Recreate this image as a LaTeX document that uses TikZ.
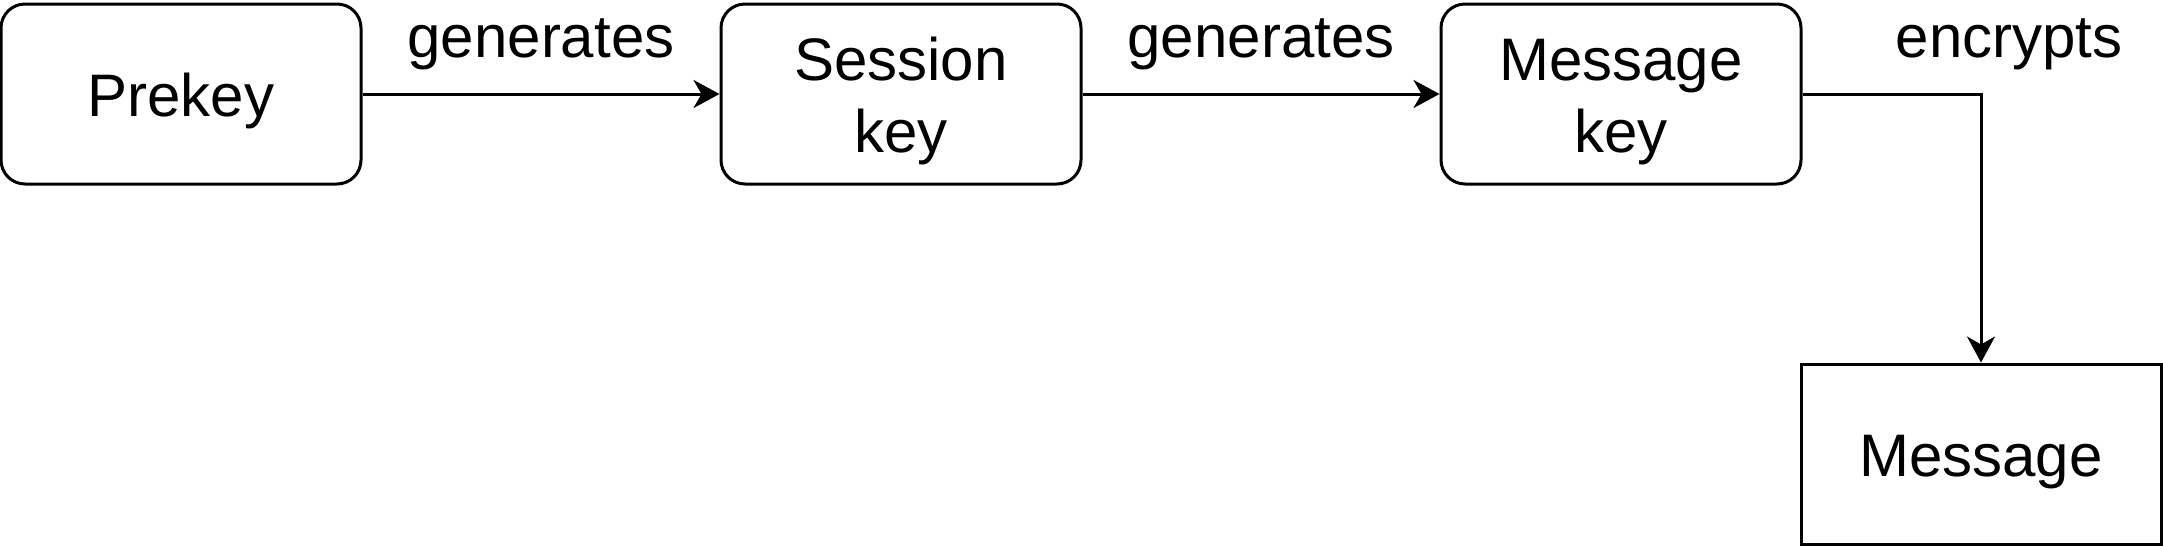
\documentclass[tikz,border=0pt]{standalone}
\usepackage{fontspec}
\setmainfont{Liberation Sans}
\usetikzlibrary{arrows.meta}
\def\kstrut{\rule{0pt}{28.5pt}}

\tikzset{
	keybox/.style={draw, line width=1.5pt, rounded corners=12pt, minimum width=180pt, minimum height=90pt, align=center, inner sep=0pt},
	msgbox/.style={draw, line width=1.5pt, minimum width=180pt, minimum height=90pt, align=center, inner sep=0pt},
	link/.style={line width=1.5pt, -{Stealth[length=13pt, width=14pt, inset=4pt]}},
	lbl/.style={inner sep=0pt}
}

\begin{document}
\begin{tikzpicture}[x=0.5pt, y=-0.5pt, font=\fontsize{30}{36}\selectfont]
			%%%%% START %%%%%
			\useasboundingbox (0, 0) rectangle (2163, 546);
			
			\node[keybox] (prekey) at (181, 94) {\kstrut Prekey};
			\node[keybox] (session) at (901, 94) {\kstrut Session\\key};
			\node[keybox] (mkey) at (1621, 94) {\kstrut Message\\key};
			\node[msgbox] (msg) at (1981, 454) {\kstrut Message};
			
			\draw[link] (prekey) -- node[lbl, yshift=25pt] (gen1) {generates} (session);
			\draw[link] (session) -- node[lbl, yshift=25pt] (gen2) {generates} (mkey);
			\draw[link] (mkey) -| node[lbl, pos=0.5, xshift=14pt, yshift=25pt] (enc) {encrypts} (msg);
			
			%%%%% END %%%%%
\end{tikzpicture}
\end{document}
